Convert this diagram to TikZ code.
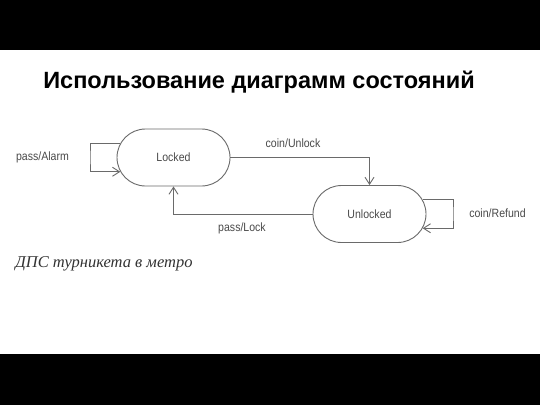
\documentclass[tikz,border=0pt]{standalone}
\usepackage{fontspec}
\setmainfont{Liberation Sans}
\newfontfamily\labelfont[FakeStretch=0.88]{Liberation Sans}
\newfontfamily\capfont{Liberation Serif}
\usetikzlibrary{shapes.misc,arrows.meta}
\definecolor{linegray}{HTML}{6A6A6A}
\definecolor{textgray}{HTML}{4A4A4A}
\tikzset{
  state/.style = {rounded rectangle, draw = linegray, line width = 0.9pt,
    minimum width = 113pt, minimum height = 57pt, inner sep = 0pt,
    text = textgray, font = \labelfont\fontsize{12}{14}\selectfont},
  lbl/.style = {text = textgray, inner sep = 0pt,
    font = \labelfont\fontsize{12}{14}\selectfont},
  tr/.style = {draw = linegray, line width = 0.9pt,
    -{Straight Barb[length=7pt,width=9pt,line width=0.9pt]}}
}
\begin{document}
\begin{tikzpicture}[x = 1pt,y = -1pt]
	\useasboundingbox (0,0) rectangle (540,405);
	\fill[white] (0,0) rectangle (540,405);
	\fill[black] (0,0) rectangle (540,50);
	\fill[black] (0,354) rectangle (540,405);
	\node[font = \bfseries\fontsize{23.5}{28}\selectfont] (title) at (259,82) {Использование диаграмм состояний};
	% states
	\node[state] (locked) at (173.5,157.5) {Locked};
	\node[state] (unlocked) at (369.5,214) {Unlocked};
	\coordinate (aloop) at (90,157.5);
	\coordinate (bloop) at (453,214);
	% transitions
	\draw[tr] (locked.165) -| (aloop) |- (locked.195);
	\draw[tr] (locked.east) -| (unlocked.north);
	\draw[tr] (unlocked.west) -| (locked.south);
	\draw[tr] (unlocked.15) -| (bloop) |- (unlocked.-15);
	\node[lbl] (alarm) at (42.5,157) {pass/Alarm};
	\node[lbl] (unlock) at (293,143) {coin/Unlock};
	\node[lbl] (lock) at (242,228) {pass/Lock};
	\node[lbl] (refund) at (497.5,213) {coin/Refund};
	\node[text = black!80, inner sep = 0pt, font = \capfont\itshape\fontsize{16.5}{20}\selectfont] (caption) at (104,264) {ДПС турникета в метро};
\end{tikzpicture}
\end{document}
